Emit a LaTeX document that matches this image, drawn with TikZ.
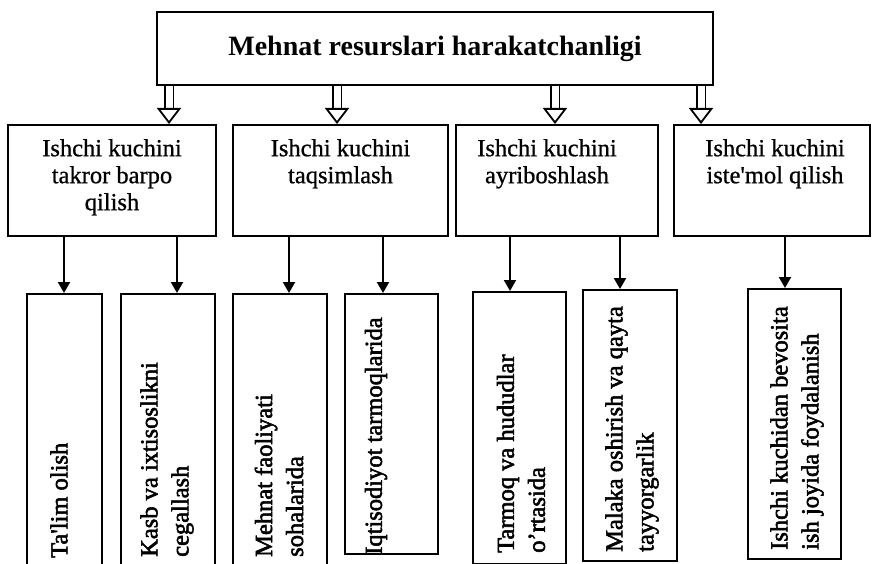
\documentclass[tikz,border=0pt]{standalone}
\usepackage{fontspec}
\setmainfont{Liberation Serif}
\newfontfamily\vertfont[FakeBold=2.2]{Liberation Serif}
\newfontfamily\midfont[FakeBold=0.8]{Liberation Serif}
\usetikzlibrary{arrows.meta, positioning, calc}

\begin{document}
\begin{tikzpicture}[
        x=1pt, y=-1pt,
        >={Triangle[length=11pt, width=12pt]},
        topbox/.style={draw, line width=1.4pt, minimum width=556pt, minimum height=73pt, inner sep=0pt, font=\fontsize{28}{32}\selectfont\bfseries},
        midbox/.style={draw, line width=2pt, minimum height=111pt, inner sep=0pt, anchor=north},
        midtxt/.style={align=center, anchor=north, inner sep=0pt, font=\midfont\fontsize{24.5}{27}\selectfont},
        botbox/.style={draw, line width=2pt, inner sep=0pt, anchor=north},
        bottxt/.style={rotate=90, anchor=west, align=left, inner sep=0pt, font=\vertfont\fontsize{24.5}{31}\selectfont},
        arr/.style={->, line width=2pt},
        dbl/.style={draw, double, double distance=7pt, line width=1.8pt, -{Triangle[open, length=16pt, width=24pt]}}
    ]
        \useasboundingbox (0,0) rectangle (873,564);

        % --- Yuqori blok ---
        \node[topbox] (top) at (435,48.5) {Mehnat resurslari harakatchanligi};

        % --- O'rta bloklar ---
        \node[midbox, minimum width=208pt] (m1) at (112,124) {};
        \node[midbox, minimum width=215pt] (m2) at (340.5,124) {};
        \node[midbox, minimum width=202pt] (m3) at (557,124) {};
        \node[midbox, minimum width=196pt] (m4) at (772,124) {};
        \node[midtxt] (t1) at ([yshift=-15pt]m1.north) {Ishchi kuchini\\takror barpo\\qilish};
        \node[midtxt] (t2) at ([yshift=-15pt]m2.north) {Ishchi kuchini\\taqsimlash};
        \node[midtxt] (t3) at ([xshift=-10pt, yshift=-15pt]m3.north) {Ishchi kuchini\\ayriboshlash};
        \node[midtxt] (t4) at ([xshift=3pt, yshift=-15pt]m4.north) {Ishchi kuchini\\iste\textquotesingle mol qilish};

        % qo'sh strelkalar
        \coordinate (d1) at (169,0);
        \coordinate (d2) at (337,0);
        \coordinate (d3) at (555,0);
        \coordinate (d4) at (701,0);
        \draw[dbl] (top.south -| d1) -- (m1.north -| d1);
        \draw[dbl] (top.south -| d2) -- (m2.north -| d2);
        \draw[dbl] (top.south -| d3) -- (m3.north -| d3);
        \draw[dbl] (top.south -| d4) -- (m4.north -| d4);

        % --- Pastki bloklar ---
        \node[botbox, minimum width=75pt, minimum height=282pt] (b1) at (64.5,293) {};
        \node[botbox, minimum width=94pt, minimum height=282pt] (b2) at (168,293) {};
        \node[botbox, minimum width=94pt, minimum height=282pt] (b3) at (280,293) {};
        \node[botbox, minimum width=93pt, minimum height=260pt] (b4) at (391.5,293) {};
        \node[botbox, minimum width=93pt, minimum height=272pt] (b5) at (519.5,291) {};
        \node[botbox, minimum width=94pt, minimum height=271pt] (b6) at (630,289) {};
        \node[botbox, minimum width=93pt, minimum height=270pt] (b7) at (794.5,288) {};

        \node[bottxt] (v1) at (59,558) {Ta\textquotesingle lim olish};
        \node[bottxt] (v2) at (167,557) {Kasb va ixtisoslikni\\cegallash};
        \node[bottxt] (v3) at (279,557) {Mehnat faoliyati\\sohalarida};
        \node[bottxt] (v4) at (376,555) {Iqtisodiyot tarmoqlarida};
        \node[bottxt] (v5) at (521,553) {Tarmoq va hududlar\\o’rtasida};
        \node[bottxt] (v6) at (632,552) {Malaka oshirish va qayta\\tayyorgarlik};
        \node[bottxt] (v7) at (797,550) {Ishchi kuchidan bevosita\\ish joyida foydalanish};

        % oddiy strelkalar
        \coordinate (s1) at (64,0);
        \coordinate (s2) at (177,0);
        \coordinate (s3) at (289,0);
        \coordinate (s4) at (383,0);
        \coordinate (s5) at (510,0);
        \coordinate (s6) at (620,0);
        \coordinate (s7) at (785,0);
        \draw[arr] (m1.south -| s1) -- (b1.north -| s1);
        \draw[arr] (m1.south -| s2) -- (b2.north -| s2);
        \draw[arr] (m2.south -| s3) -- (b3.north -| s3);
        \draw[arr] (m2.south -| s4) -- (b4.north -| s4);
        \draw[arr] (m3.south -| s5) -- (b5.north -| s5);
        \draw[arr] (m3.south -| s6) -- (b6.north -| s6);
        \draw[arr] (m4.south -| s7) -- (b7.north -| s7);
\end{tikzpicture}
\end{document}
